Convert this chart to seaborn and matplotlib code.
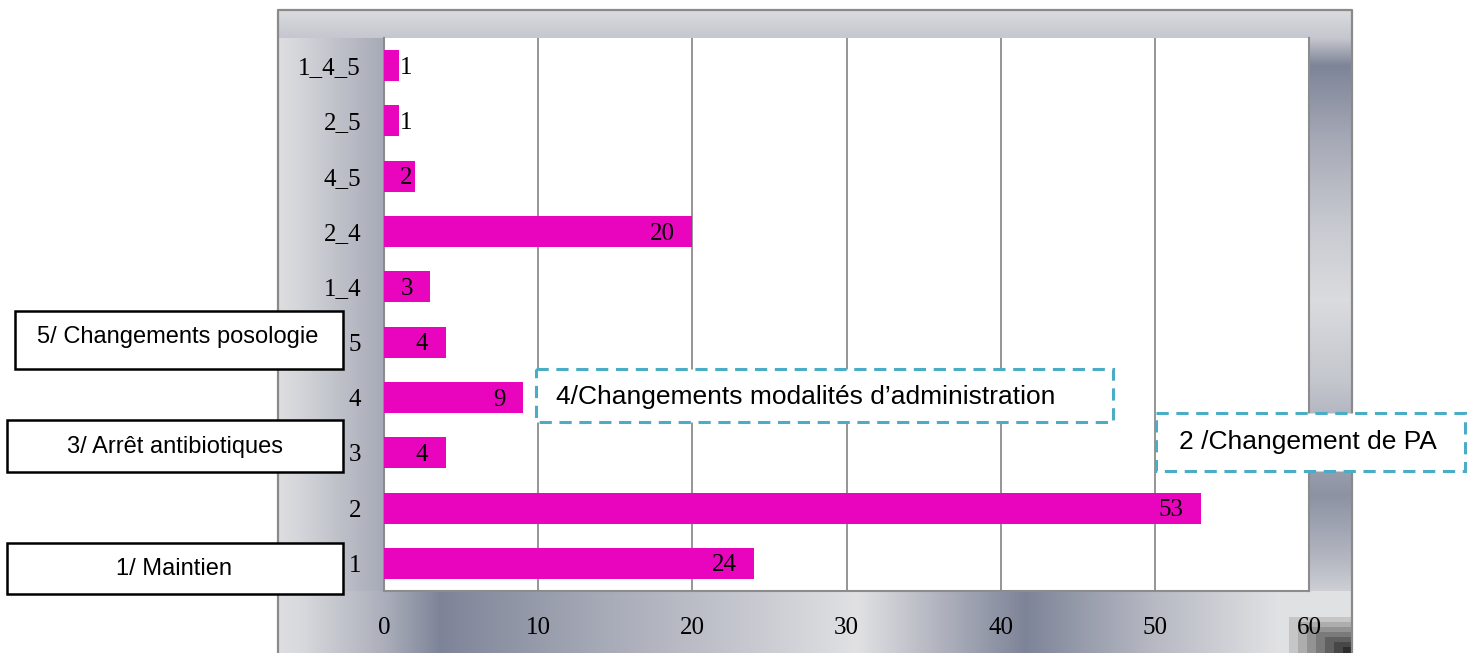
import numpy as np
import pandas as pd
import matplotlib
matplotlib.use("Agg")
import matplotlib.pyplot as plt
import seaborn as sns
from matplotlib.patches import Rectangle

# ---- data ----
categories = ["1", "2", "3", "4", "5", "1_4", "2_4", "4_5", "2_5", "1_4_5"]
counts = [24, 53, 4, 9, 4, 3, 20, 2, 1, 1]
x_ticks = [0, 10, 20, 30, 40, 50, 60]

box_labels = ["5/ Changements posologie", "3/ Arrêt antibiotiques", "1/ Maintien"]
dashed_labels = ["4/Changements modalités d\u2019administration", "2 /Changement de PA"]

df = pd.DataFrame({"modalite": categories, "effectif": counts})
order = categories[::-1]  # top to bottom

W, H, DPI = 1478, 653, 100
sns.set_theme(style="white")
plt.rcParams["font.family"] = ["Liberation Serif", "DejaVu Serif"]

fig = plt.figure(figsize=(W / DPI, H / DPI), dpi=DPI, facecolor="white")

# ---- metallic frame behind the plot ----
fx0, fx1, fy0 = 278, 1352, 10
px0, px1, py0, py1 = 384, 1309, 38, 591

light = np.array([227, 227, 229]) / 255.0
dark = np.array([126, 132, 152]) / 255.0

yy, xx = np.mgrid[0:H, 0:W]
d = np.full((H, W), np.nan)

top = (yy >= fy0) & (yy < py0) & (xx >= fx0) & (xx < fx1)
d[top] = np.interp(yy[top], [fy0, py0], [0.08, 0.3])

left = (yy >= py0) & (yy < py1) & (xx >= fx0) & (xx < px0)
d[left] = np.interp(xx[left], [fx0, 300, px0], [0.05, 0.15, 0.6])

bottom = (yy >= py1) & (xx >= fx0) & (xx < fx1)
d[bottom] = np.interp(xx[bottom],
                      [278, 300, 384, 440, 600, 760, 857, 1025, 1150, 1277, 1352],
                      [0.05, 0.1, 0.55, 1.0, 0.6, 0.25, 0.02, 1.0, 0.45, 0.02, 0.02])

right = (yy >= py0) & (yy < py1) & (xx >= px1) & (xx < fx1)
d[right] = np.interp(yy[right],
                     [38, 65, 140, 230, 300, 380, 440, 495, 560, 591],
                     [0.3, 1.0, 0.6, 0.25, 0.08, 0.3, 0.6, 0.85, 0.45, 0.2])

img = np.ones((H, W, 3))
m = ~np.isnan(d)
img[m] = light[None, :] * (1 - d[m, None]) + dark[None, :] * d[m, None]

# stepped dark corner at the bottom right
cx0, cy0 = 1280, 612
corner = (xx >= cx0) & (yy >= cy0) & (xx < fx1)
lvl = np.minimum((xx - cx0) // 9, (yy - cy0) // 5).clip(0, 8)
g = np.interp(lvl, [0, 1, 8], [0.86, 0.78, 0.08])
cm = corner & (lvl >= 1)
img[cm] = g[cm][:, None]

bg = fig.add_axes([0, 0, 1, 1], zorder=0)
bg.imshow(img, extent=(0, W, H, 0), interpolation="nearest", aspect="auto")
bg.set_xlim(0, W)
bg.set_ylim(H, 0)
bg.axis("off")
bg.plot([fx0, fx0, fx1, fx1], [H, fy0, fy0, H], color="#8A8A8A", lw=1.6)

# ---- bar chart ----
ax = fig.add_axes([px0 / W, 1 - py1 / H, (px1 - px0) / W, (py1 - py0) / H], zorder=1)
ax.set_facecolor("white")
sns.barplot(data=df, x="effectif", y="modalite", order=order, orient="h",
            color="#E905BE", saturation=1, width=0.56, linewidth=0, ax=ax, zorder=3)
ax.set_xlim(0, 60)
ax.set_ylim(len(order) - 0.5, -0.5)
ax.set_xticks(x_ticks)
ax.set_xticklabels([str(t) for t in x_ticks])
ax.grid(axis="x", color="#8C8C8C", lw=1.3)
ax.grid(axis="y", visible=False)
ax.set_axisbelow(True)
ax.set_xlabel("")
ax.set_ylabel("")
for side in ("left", "right", "bottom"):
    ax.spines[side].set_color("#8C8C8C")
    ax.spines[side].set_linewidth(1.5)
ax.spines["top"].set_visible(False)
ax.tick_params(axis="x", length=0, pad=18.5, labelsize=18, labelcolor="black")
ax.tick_params(axis="y", length=0, pad=16.5, labelsize=18, labelcolor="black")

# value labels at the inner end of each bar
px_per_unit = (px1 - px0) / 60.0
for i, cat in enumerate(order):
    v = counts[categories.index(cat)]
    bar_px = v * px_per_unit
    if bar_px >= 40:
        ha, dx = "right", -12.5
    elif bar_px >= 25:
        ha, dx = "right", -1.5
    else:
        ha, dx = "left", 0.5
    ax.annotate(str(v), xy=(v, i), xytext=(dx, -1.5), textcoords="offset points",
                ha=ha, va="center", fontsize=18, color="black", zorder=5)

# ---- text boxes ----
ov = fig.add_axes([0, 0, 1, 1], zorder=5)
ov.set_xlim(0, W)
ov.set_ylim(H, 0)
ov.axis("off")
ov.patch.set_alpha(0)

solid_boxes = [(15, 311, 343, 369, 178, 337),
               (7, 420, 343, 472, 175, 447),
               (7, 543, 343, 594, 174, 569)]
for (x0, y0, x1, y1, tx, ty), lab in zip(solid_boxes, box_labels):
    ov.add_patch(Rectangle((x0, y0), x1 - x0, y1 - y0, facecolor="white",
                           edgecolor="black", lw=1.8))
    ov.text(tx, ty, lab, ha="center", va="center", fontsize=17,
            family=["Liberation Sans", "DejaVu Sans"], color="black")

dashed_boxes = [(536, 369, 1113, 422, 556, 397, "left"),
                (1156, 413, 1465, 471, 1308, 442, "center")]
for (x0, y0, x1, y1, tx, ty, ha), lab in zip(dashed_boxes, dashed_labels):
    ov.add_patch(Rectangle((x0, y0), x1 - x0, y1 - y0, facecolor="white",
                           edgecolor="#4BACC6", lw=2.2, linestyle=(0, (4, 2.5))))
    ov.text(tx, ty, lab, ha=ha, va="center", fontsize=19,
            family=["Liberation Sans", "DejaVu Sans"], color="black")

fig.savefig("out.png", dpi=DPI, facecolor="white")
